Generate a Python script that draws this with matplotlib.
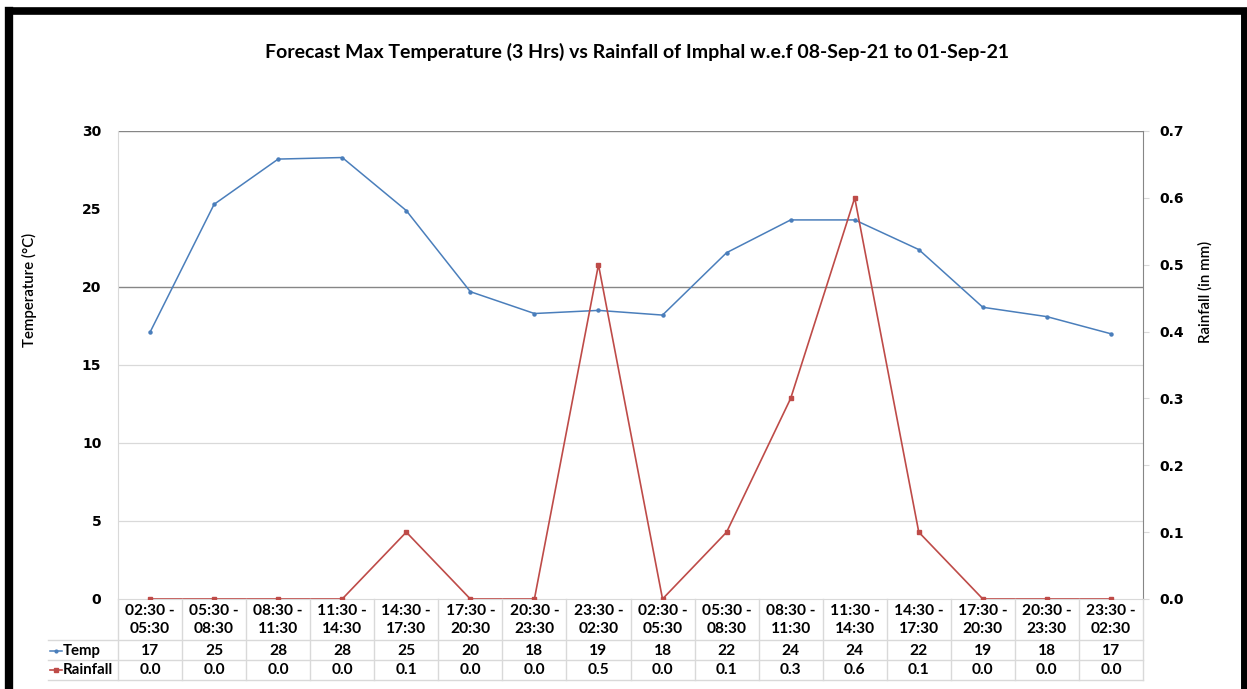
import matplotlib
matplotlib.use("Agg")
import matplotlib.pyplot as plt
from matplotlib.lines import Line2D
import matplotlib.transforms as mtransforms

categories = ["02:30 -\n05:30", "05:30 -\n08:30", "08:30 -\n11:30", "11:30 -\n14:30",
              "14:30 -\n17:30", "17:30 -\n20:30", "20:30 -\n23:30", "23:30 -\n02:30",
              "02:30 -\n05:30", "05:30 -\n08:30", "08:30 -\n11:30", "11:30 -\n14:30",
              "14:30 -\n17:30", "17:30 -\n20:30", "20:30 -\n23:30", "23:30 -\n02:30"]
temp = [17.1, 25.3, 28.2, 28.3, 24.9, 19.7, 18.3, 18.5, 18.2, 22.2, 24.3, 24.3, 22.4, 18.7, 18.1, 17.0]
temp_table = ["17", "25", "28", "28", "25", "20", "18", "19", "18", "22", "24", "24", "22", "19", "18", "17"]
rainfall = [0.0, 0.0, 0.0, 0.0, 0.1, 0.0, 0.0, 0.5, 0.0, 0.1, 0.3, 0.6, 0.1, 0.0, 0.0, 0.0]
temp_ticks = [0, 5, 10, 15, 20, 25, 30]
rain_ticks = [0.0, 0.1, 0.2, 0.3, 0.4, 0.5, 0.6, 0.7]

W, H = 1247, 689
fig = plt.figure(figsize=(W / 100, H / 100), dpi=100)

def fx(px):
    return px / W

def fy(py):
    return 1 - py / H

BLUE = "#4A7EBB"
RED = "#BE4B48"
LGRID = "#D9D9D9"
DGRID = "#868686"
TFONT = "Lato"

L, R, T, B = 118, 1143, 131, 599
ax = fig.add_axes([fx(L), fy(B), fx(R) - fx(L), fy(T) - fy(B)])
ax2 = ax.twinx()

x = list(range(len(categories)))
ax.set_xlim(-0.5, len(categories) - 0.5)
ax.set_ylim(0, 30)
ax2.set_ylim(0, 0.7)

# gridlines
for v in [5, 10, 15]:
    ax.axhline(v, color=LGRID, lw=0.9, zorder=0)
for v in [20, 30]:
    ax.axhline(v, color=DGRID, lw=1.0, zorder=0)

ax.plot(x, temp, color=BLUE, lw=1.1, marker="o", ms=2.2, zorder=3)
ax2.plot(x, rainfall, color=RED, lw=1.2, marker="s", ms=2.8, zorder=3)

for a in (ax, ax2):
    for s in a.spines.values():
        s.set_visible(False)
ax2.spines["right"].set_visible(True)
ax2.spines["right"].set_color(DGRID)
ax.spines["left"].set_visible(True)
ax.spines["left"].set_color(LGRID)
ax.spines["bottom"].set_visible(True)
ax.spines["bottom"].set_color(LGRID)

ax.set_xticks([])
ax.set_yticks(temp_ticks)
ax.set_yticklabels([str(t) for t in temp_ticks], fontweight="bold", fontsize=10, family="DejaVu Sans")
ax.tick_params(axis="y", length=0, pad=12)
ax2.set_yticks(rain_ticks)
ax2.set_yticklabels([f"{t:.1f}" for t in rain_ticks], fontweight="bold", fontsize=10, family="DejaVu Sans")
ax2.tick_params(axis="y", length=4, color=LGRID, pad=8)

# title and labels
fig.text(fx(637), fy(52), "Forecast Max Temperature (3 Hrs) vs Rainfall of Imphal w.e.f 08-Sep-21 to 01-Sep-21",
         ha="center", va="center", fontsize=14, fontweight="bold", family=TFONT)
fig.text(fx(29), fy(290), "Temperature (°C)", rotation=90, ha="center", va="center",
         fontsize=10.8, family=TFONT, fontweight="semibold")
fig.text(fx(1205), fy(292), "Rainfall (in mm)", rotation=90, ha="center", va="center",
         fontsize=10.8, family=TFONT, fontweight="semibold")

# data table
FS = 11.2
trans = mtransforms.blended_transform_factory(ax.transData, fig.transFigure)
for i, c in enumerate(categories):
    l1, l2 = c.split("\n")
    ax.text(i, fy(611), l1, transform=trans, ha="center", va="center", fontsize=FS,
            fontweight="bold", family=TFONT)
    ax.text(i, fy(629), l2, transform=trans, ha="center", va="center", fontsize=FS,
            fontweight="bold", family=TFONT)
    ax.text(i, fy(651), temp_table[i], transform=trans, ha="center", va="center", fontsize=FS,
            fontweight="bold", family=TFONT)
    ax.text(i, fy(670), f"{rainfall[i]:.1f}", transform=trans, ha="center", va="center", fontsize=FS,
            fontweight="bold", family=TFONT)

for py in [640, 660, 680]:
    fig.add_artist(Line2D([fx(48), fx(R)], [fy(py), fy(py)], color=LGRID, lw=1.0))
for k in range(len(categories) + 1):
    px = L + (R - L) * k / len(categories)
    fig.add_artist(Line2D([fx(px), fx(px)], [fy(B), fy(680)], color=LGRID, lw=1.0))

# row headers with legend keys
fig.add_artist(Line2D([fx(50), fx(62)], [fy(651), fy(651)], color=BLUE, lw=1.1))
fig.add_artist(Line2D([fx(56)], [fy(651)], color=BLUE, marker="o", ms=2))
fig.text(fx(63), fy(651), "Temp", ha="left", va="center", fontsize=10.8, fontweight="bold", family=TFONT)
fig.add_artist(Line2D([fx(50), fx(62)], [fy(670), fy(670)], color=RED, lw=1.2))
fig.add_artist(Line2D([fx(56)], [fy(670)], color=RED, marker="s", ms=2.5))
fig.text(fx(63), fy(670), "Rainfall", ha="left", va="center", fontsize=10.8, fontweight="bold", family=TFONT)

# outer frame (top, left, right)
fig.add_artist(Line2D([fx(9), fx(9)], [0, fy(10.5)], color="black", lw=6, solid_capstyle="projecting"))
fig.add_artist(Line2D([fx(9), fx(1244)], [fy(10.5), fy(10.5)], color="black", lw=5.5, solid_capstyle="projecting"))
fig.add_artist(Line2D([fx(1244), fx(1244)], [0, fy(10.5)], color="black", lw=5, solid_capstyle="projecting"))

fig.savefig("out.png", dpi=100)
